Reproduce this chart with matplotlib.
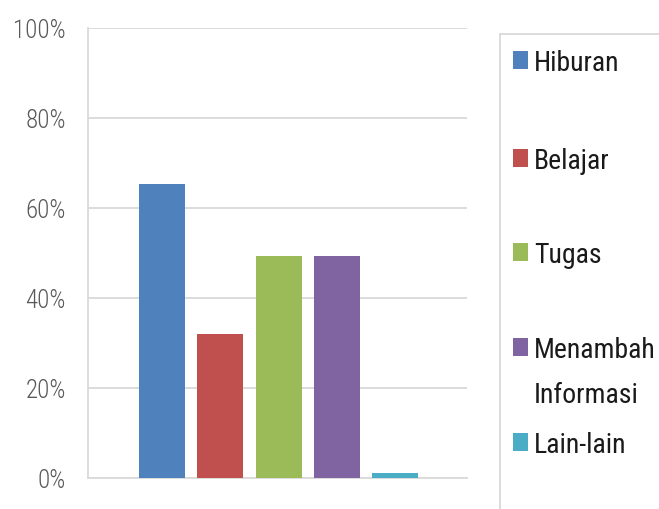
import matplotlib
matplotlib.use('Agg')
import matplotlib.pyplot as plt
from matplotlib.patches import Rectangle
from matplotlib import font_manager
from matplotlib.ticker import FuncFormatter

################# DATA ############################

KATEGORI = ['Hiburan', 'Belajar', 'Tugas', 'Menambah\nInformasi', 'Lain-lain']
NILAI = [65.3, 32.1, 49.4, 49.4, 1.2]
WARNA = ['#4F81BD', '#C0504D', '#9BBB59', '#8064A2', '#4BACC6']
TICKS_Y = [0, 20, 40, 60, 80, 100]

################# FONT ############################

nama_font = set(f.name for f in font_manager.fontManager.ttflist)
for kandidat in ['Roboto Condensed', 'Open Sans Condensed', 'DejaVu Sans']:
    if kandidat in nama_font:
        plt.rcParams['font.family'] = [kandidat, 'DejaVu Sans']
        break

################# GRAFIK ############################

W, H = 659, 509
fig = plt.figure(figsize=(W / 100, H / 100), dpi=100)
ax = fig.add_axes([88 / W, 1 - 478 / H, (467 - 88) / W, (478 - 28) / H])

x = range(len(NILAI))
ax.bar(x, NILAI, width=0.79, color=WARNA, zorder=3)

ax.set_ylim(0, 100)
ax.set_xlim(-1.27, 5.23)
ax.set_yticks(TICKS_Y)
ax.yaxis.set_major_formatter(FuncFormatter(lambda v, p: f'{v:.0f}%'))
ax.set_xticks([])
ax.tick_params(axis='y', length=0, pad=16, labelsize=18, labelcolor='#595959')
for t in ax.get_yticklabels():
    t.set_fontweight('light')
ax.grid(axis='y', color='#D9D9D9', linewidth=1.3, zorder=0)
for s in ['top', 'right']:
    ax.spines[s].set_visible(False)
for s in ['left', 'bottom']:
    ax.spines[s].set_color('#D9D9D9')
    ax.spines[s].set_linewidth(1.3)

# legenda manual (posisi seperti Excel)
fig.patches.append(Rectangle((500 / W, 1 - 530 / H), 200 / W, (530 - 34) / H,
                             transform=fig.transFigure, facecolor='white',
                             edgecolor='#D9D9D9', linewidth=1.3))
kotak_atas = [51, 149, 243, 338, 433]
for label, warna, py in zip(KATEGORI, WARNA, kotak_atas):
    fig.patches.append(Rectangle((513 / W, 1 - (py + 18) / H), 15 / W, 18 / H,
                                 transform=fig.transFigure, facecolor=warna,
                                 edgecolor='none'))
    for i, baris in enumerate(label.split('\n')):
        baseline = py + 20 + i * 45
        fig.text(534 / W, 1 - baseline / H, baris, fontsize=20, color='#1a1a1a',
                 va='baseline', ha='left')

fig.savefig('out.png', dpi=100)
